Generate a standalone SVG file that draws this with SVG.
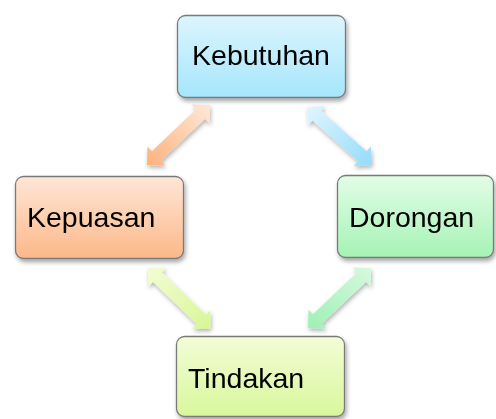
<svg xmlns="http://www.w3.org/2000/svg" width="496" height="419" viewBox="0 0 496 419">
<defs>
<style>
.box{stroke:#7a7a7a;stroke-width:1.3}
.lbl{font-family:"Liberation Sans","Noto Sans",sans-serif;font-size:28.5px;fill:#000}
</style>
<filter id="sh" x="-20%" y="-20%" width="140%" height="150%">
<feDropShadow dx="1.5" dy="3" stdDeviation="2" flood-color="#000" flood-opacity="0.35"/>
</filter>
<filter id="ash" x="-20%" y="-40%" width="140%" height="180%">
<feDropShadow dx="1" dy="2.5" stdDeviation="2" flood-color="#000" flood-opacity="0.3"/>
</filter>
<linearGradient id="gB" x1="0" y1="0" x2="0" y2="1"><stop offset="0" stop-color="#dcf5fe"/><stop offset="1" stop-color="#a6e6fc"/></linearGradient>
<linearGradient id="gO" x1="0" y1="0" x2="0" y2="1"><stop offset="0" stop-color="#fee6d6"/><stop offset="1" stop-color="#fcb889"/></linearGradient>
<linearGradient id="gG" x1="0" y1="0" x2="0" y2="1"><stop offset="0" stop-color="#e2fde7"/><stop offset="1" stop-color="#a6f3b4"/></linearGradient>
<linearGradient id="gY" x1="0" y1="0" x2="0" y2="1"><stop offset="0" stop-color="#f3fdd6"/><stop offset="1" stop-color="#d8f79c"/></linearGradient>
<linearGradient id="aO" x1="0" y1="0" x2="1" y2="0"><stop offset="0" stop-color="#fdb27c"/><stop offset="1" stop-color="#fee8d8"/></linearGradient>
<linearGradient id="aB" x1="0" y1="0" x2="1" y2="0"><stop offset="0" stop-color="#e2f5fd"/><stop offset="1" stop-color="#94dcfb"/></linearGradient>
<linearGradient id="aY" x1="0" y1="0" x2="1" y2="0"><stop offset="0" stop-color="#f2fcd4"/><stop offset="1" stop-color="#d8f794"/></linearGradient>
<linearGradient id="aG" x1="0" y1="0" x2="1" y2="0"><stop offset="0" stop-color="#9ef0b6"/><stop offset="1" stop-color="#d6f9de"/></linearGradient>
<path id="dar" d="M0,0 L13,-13 L13,-6.5 L74,-6.5 L74,-13 L87,0 L74,13 L74,6.5 L13,6.5 L13,13 Z"/>
</defs>
<g id="connectors" filter="url(#ash)">
<use href="#dar" fill="url(#aO)" transform="translate(147,165) rotate(-43.6)"/>
<use href="#dar" fill="url(#aB)" transform="translate(307,107) rotate(41.7)"/>
<use href="#dar" fill="url(#aY)" transform="translate(148,268) rotate(44)"/>
<use href="#dar" fill="url(#aG)" transform="translate(308,328) rotate(-43.6)"/>
</g>
<g id="kebutuhan">
<rect class="box" x="177.5" y="15.5" width="168" height="82" rx="8" fill="url(#gB)" filter="url(#sh)"/>
<text class="lbl" x="261" y="65" text-anchor="middle">Kebutuhan</text>
</g>
<g id="kepuasan">
<rect class="box" x="15.5" y="176.5" width="168" height="82" rx="8" fill="url(#gO)" filter="url(#sh)"/>
<text class="lbl" x="27" y="227">Kepuasan</text>
</g>
<g id="dorongan">
<rect class="box" x="337.5" y="175.5" width="156" height="82" rx="8" fill="url(#gG)" filter="url(#sh)"/>
<text class="lbl" x="349" y="227">Dorongan</text>
</g>
<g id="tindakan">
<rect class="box" x="176.5" y="336.5" width="168" height="80" rx="8" fill="url(#gY)" filter="url(#sh)"/>
<text class="lbl" x="188" y="388">Tindakan</text>
</g>
</svg>
